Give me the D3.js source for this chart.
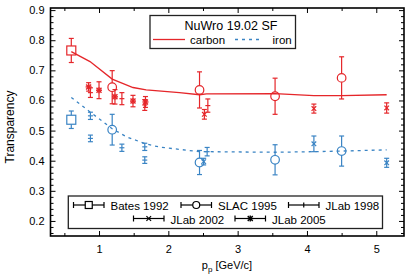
<!DOCTYPE html>
<html><head><meta charset="utf-8">
<script src="https://cdn.jsdelivr.net/npm/d3@7"></script>
<style>body{margin:0;background:#fff}svg{display:block;font-family:"Liberation Sans",Arial,Helvetica,sans-serif}</style>
</head><body><svg id="c" width="415" height="277"></svg>
<script>
// NuWro 19.02 SF curves
const carbonCurveP = [0.6, 0.87, 1.19, 1.49, 1.68, 2.16, 2.45, 2.55, 3.54, 4.1, 4.5, 5.15];
const carbonCurveT = [0.762, 0.729, 0.671, 0.643, 0.635, 0.626, 0.619, 0.622, 0.623, 0.616, 0.616, 0.619];
const ironCurveP = [0.6, 0.87, 1.19, 1.4, 1.67, 1.88, 2.45, 2.55, 3.54, 4.1, 4.5, 5.15];
const ironCurveT = [0.610, 0.562, 0.506, 0.479, 0.456, 0.445, 0.430, 0.430, 0.428, 0.430, 0.432, 0.436];

// Bates 1992
const batesP = [0.60];
const batesCarbon = [0.766], batesCarbonErr = [0.040];
const batesIron = [0.536], batesIronErr = [0.029];
// SLAC 1995
const slacP = [1.19, 2.45, 3.54, 4.50];
const slacCarbon = [0.644, 0.635, 0.614, 0.675], slacCarbonErr = [0.055, 0.060, 0.060, 0.070];
const slacIron = [0.503, 0.394, 0.403, 0.432], slacIronErr = [0.051, 0.040, 0.050, 0.050];
// JLab 1998
const jlab98CarbonP = [0.876, 1.33, 1.66, 2.57];
const jlab98Carbon = [0.626, 0.606, 0.585, 0.583], jlab98CarbonErr = [0.016, 0.020, 0.018, 0.022];
const jlab98IronP = [0.876, 0.876, 1.33, 1.66, 1.66, 2.56];
const jlab98Iron = [0.549, 0.474, 0.443, 0.446, 0.402, 0.430], jlab98IronErr = [0.012, 0.011, 0.012, 0.012, 0.011, 0.014];
// JLab 2002
const jlab02P = [2.52, 4.10, 5.15];
const jlab02Carbon = [0.554, 0.573, 0.575], jlab02CarbonErr = [0.016, 0.015, 0.017];
const jlab02IronP = [2.51, 4.10, 5.15];
const jlab02Iron = [0.397, 0.456, 0.393], jlab02IronErr = [0.011, 0.026, 0.015];
// JLab 2005
const jlab05P = [0.85, 1.00, 1.23, 1.49, 1.67];
const jlab05Carbon = [0.645, 0.634, 0.612, 0.598, 0.595], jlab05CarbonErr = [0.014, 0.028, 0.024, 0.019, 0.018];

const xTicks = [1, 2, 3, 4, 5];
const yTicks = [0.2, 0.3, 0.4, 0.5, 0.6, 0.7, 0.8, 0.9];

const RED = "#e5262a", BLUE = "#3a84c4";
const svg = d3.select("#c");
const L = 50.5, R = 404, T = 8, B = 236;
const x = d3.scaleLinear().domain([0.3, 5.4]).range([L, R]);
const y = d3.scaleLinear().domain([0.15, 0.907]).range([B, T]);

// axes
const xMinor = d3.range(0.5, 5.4, 0.5).filter(v => Math.abs(v - Math.round(v)) > 0.01);
const yMinor = d3.range(0.16, 0.907, 0.02).filter(v => Math.abs(v * 10 - Math.round(v * 10)) > 0.01);
function styleAxis(g) { g.select(".domain").remove(); g.selectAll("line").attr("stroke", "#000").attr("stroke-width", 1); g.selectAll("text").attr("font-size", 11).attr("fill", "#000").attr("font-family", "Liberation Sans, Arial, sans-serif"); }
svg.append("g").attr("transform", `translate(0,${B})`).call(d3.axisBottom(x).tickValues(xTicks).tickFormat(d3.format("d")).tickSize(-5).tickPadding(9)).call(styleAxis);
svg.append("g").attr("transform", `translate(0,${B})`).call(d3.axisBottom(x).tickValues(xMinor).tickFormat("").tickSize(-3)).call(styleAxis);
svg.append("g").attr("transform", `translate(0,${T})`).call(d3.axisTop(x).tickValues(xTicks).tickFormat("").tickSize(-5)).call(styleAxis);
svg.append("g").attr("transform", `translate(0,${T})`).call(d3.axisTop(x).tickValues(xMinor).tickFormat("").tickSize(-3)).call(styleAxis);
svg.append("g").attr("transform", `translate(${L},0)`).call(d3.axisLeft(y).tickValues(yTicks).tickFormat(d3.format(".1f")).tickSize(-5).tickPadding(6)).call(styleAxis);
svg.append("g").attr("transform", `translate(${L},0)`).call(d3.axisLeft(y).tickValues(yMinor).tickFormat("").tickSize(-3)).call(styleAxis);
svg.append("g").attr("transform", `translate(${R},0)`).call(d3.axisRight(y).tickValues(yTicks).tickFormat("").tickSize(-5)).call(styleAxis);
svg.append("g").attr("transform", `translate(${R},0)`).call(d3.axisRight(y).tickValues(yMinor).tickFormat("").tickSize(-3)).call(styleAxis);

// curves
const line = d3.line().x(d => x(d[0])).y(d => y(d[1]));
svg.append("path").attr("d", line(d3.zip(carbonCurveP, carbonCurveT))).attr("fill", "none").attr("stroke", RED).attr("stroke-width", 1.3);
svg.append("path").attr("d", line(d3.zip(ironCurveP, ironCurveT))).attr("fill", "none").attr("stroke", BLUE).attr("stroke-width", 1.3).attr("stroke-dasharray", "3,4");

// markers
function marker(g, type, cx, cy, color, sz) {
  const s = g.append("g").attr("stroke", color).attr("stroke-width", 1.2).attr("fill", "none");
  if (type === "square") s.append("rect").attr("x", cx - sz).attr("y", cy - sz).attr("width", 2 * sz).attr("height", 2 * sz);
  else if (type === "circle") s.append("circle").attr("cx", cx).attr("cy", cy).attr("r", sz);
  else if (type === "plus") s.append("line").attr("x1", cx - 2.5).attr("x2", cx + 2.5).attr("y1", cy).attr("y2", cy);
  else if (type === "cross") { s.append("line").attr("x1", cx - 2.3).attr("x2", cx + 2.3).attr("y1", cy - 2.3).attr("y2", cy + 2.3); s.append("line").attr("x1", cx - 2.3).attr("x2", cx + 2.3).attr("y1", cy + 2.3).attr("y2", cy - 2.3); }
  else if (type === "star") { s.attr("stroke-width", 1.4); s.append("line").attr("x1", cx - 2.5).attr("x2", cx + 2.5).attr("y1", cy - 2.5).attr("y2", cy + 2.5); s.append("line").attr("x1", cx - 2.5).attr("x2", cx + 2.5).attr("y1", cy + 2.5).attr("y2", cy - 2.5); s.append("line").attr("x1", cx - 3).attr("x2", cx + 3).attr("y1", cy).attr("y2", cy); s.append("line").attr("x1", cx).attr("x2", cx).attr("y1", cy - 3).attr("y2", cy + 3); }
}
const gap = { square: 4.5, circle: 4.3, plus: 0, cross: 0, star: 0 };
const legendGap = { square: 3.5, circle: 3.5, plus: 0, cross: 0, star: 0 };
function series(P, V, E, type, color) {
  const g = svg.append("g");
  P.forEach((p, i) => {
    const cx = x(p), cy = y(V[i]), y1 = y(V[i] + E[i]), y2 = y(V[i] - E[i]), gp = gap[type];
    const s = g.append("g").attr("stroke", color).attr("stroke-width", 1.2);
    s.append("line").attr("x1", cx).attr("x2", cx).attr("y1", y1).attr("y2", cy - gp);
    s.append("line").attr("x1", cx).attr("x2", cx).attr("y1", cy + gp).attr("y2", y2);
    s.append("line").attr("x1", cx - 2.5).attr("x2", cx + 2.5).attr("y1", y1).attr("y2", y1);
    s.append("line").attr("x1", cx - 2.5).attr("x2", cx + 2.5).attr("y1", y2).attr("y2", y2);
    marker(g, type, cx, cy, color, gp);
  });
}
series(batesP, batesCarbon, batesCarbonErr, "square", RED);
series(batesP, batesIron, batesIronErr, "square", BLUE);
series(slacP, slacCarbon, slacCarbonErr, "circle", RED);
series(slacP, slacIron, slacIronErr, "circle", BLUE);
series(jlab98CarbonP, jlab98Carbon, jlab98CarbonErr, "plus", RED);
series(jlab98IronP, jlab98Iron, jlab98IronErr, "plus", BLUE);
series(jlab02P, jlab02Carbon, jlab02CarbonErr, "cross", RED);
series(jlab02IronP, jlab02Iron, jlab02IronErr, "cross", BLUE);
series(jlab05P, jlab05Carbon, jlab05CarbonErr, "star", RED);

// frame
svg.append("rect").attr("x", L).attr("y", T).attr("width", R - L).attr("height", B - T).attr("fill", "none").attr("stroke", "#000").attr("stroke-width", 1.6);

// axis labels
svg.append("text").attr("x", 227).attr("y", 269).attr("text-anchor", "middle").attr("font-size", 11)
  .html('p<tspan font-size="8" dy="3">p</tspan><tspan dy="-3"> [GeV/c]</tspan>');
svg.append("text").attr("transform", "translate(13.5,127) rotate(-90)").attr("text-anchor", "middle").attr("font-size", 12).text("Transparency");

// top legend
const lg = svg.append("g");
lg.append("rect").attr("x", 150).attr("y", 15.5).attr("width", 145.5).attr("height", 33).attr("fill", "#fff").attr("stroke", "#222").attr("stroke-width", 1.3);
lg.append("text").attr("x", 231).attr("y", 29.5).attr("text-anchor", "middle").attr("font-size", 12.5).text("NuWro 19.02 SF");
lg.append("line").attr("x1", 153).attr("x2", 185).attr("y1", 39.5).attr("y2", 39.5).attr("stroke", RED).attr("stroke-width", 1.3);
lg.append("text").attr("x", 190).attr("y", 44).attr("font-size", 11.5).text("carbon");
lg.append("line").attr("x1", 235).attr("x2", 262).attr("y1", 39.5).attr("y2", 39.5).attr("stroke", BLUE).attr("stroke-width", 1.3).attr("stroke-dasharray", "3,4");
lg.append("text").attr("x", 272.5).attr("y", 44).attr("font-size", 11.5).text("iron");

// bottom legend
const legendLabels = ["Bates 1992", "SLAC 1995", "JLab 1998", "JLab 2002", "JLab 2005"];
const legendTypes = ["square", "circle", "plus", "cross", "star"];
const legendX = [73.5, 181, 288.5, 133.5, 235];
const legendRow = [0, 0, 0, 1, 1];
const bl = svg.append("g");
bl.append("rect").attr("x", 68.3).attr("y", 196).attr("width", 314.2).attr("height", 32.5).attr("fill", "#fff").attr("stroke", "#222").attr("stroke-width", 1.3);
legendLabels.forEach((lab, i) => {
  const x0 = legendX[i], x1 = x0 + 30.5, cy = legendRow[i] ? 218.5 : 205, cx = (x0 + x1) / 2, t = legendTypes[i], gp = legendGap[t];
  const s = bl.append("g").attr("stroke", "#000").attr("stroke-width", 1.2);
  s.append("line").attr("x1", x0).attr("x2", cx - gp).attr("y1", cy).attr("y2", cy);
  s.append("line").attr("x1", cx + gp).attr("x2", x1).attr("y1", cy).attr("y2", cy);
  s.append("line").attr("x1", x0).attr("x2", x0).attr("y1", cy - 3).attr("y2", cy + 3);
  s.append("line").attr("x1", x1).attr("x2", x1).attr("y1", cy - 3).attr("y2", cy + 3);
  if (t === "plus") s.append("line").attr("x1", cx).attr("x2", cx).attr("y1", cy - 2.5).attr("y2", cy + 2.5);
  else marker(bl, t, cx, cy, "#000", gp);
  bl.append("text").attr("x", x1 + 6.5).attr("y", cy + 5).attr("font-size", 11.5).text(lab);
});
</script></body></html>
